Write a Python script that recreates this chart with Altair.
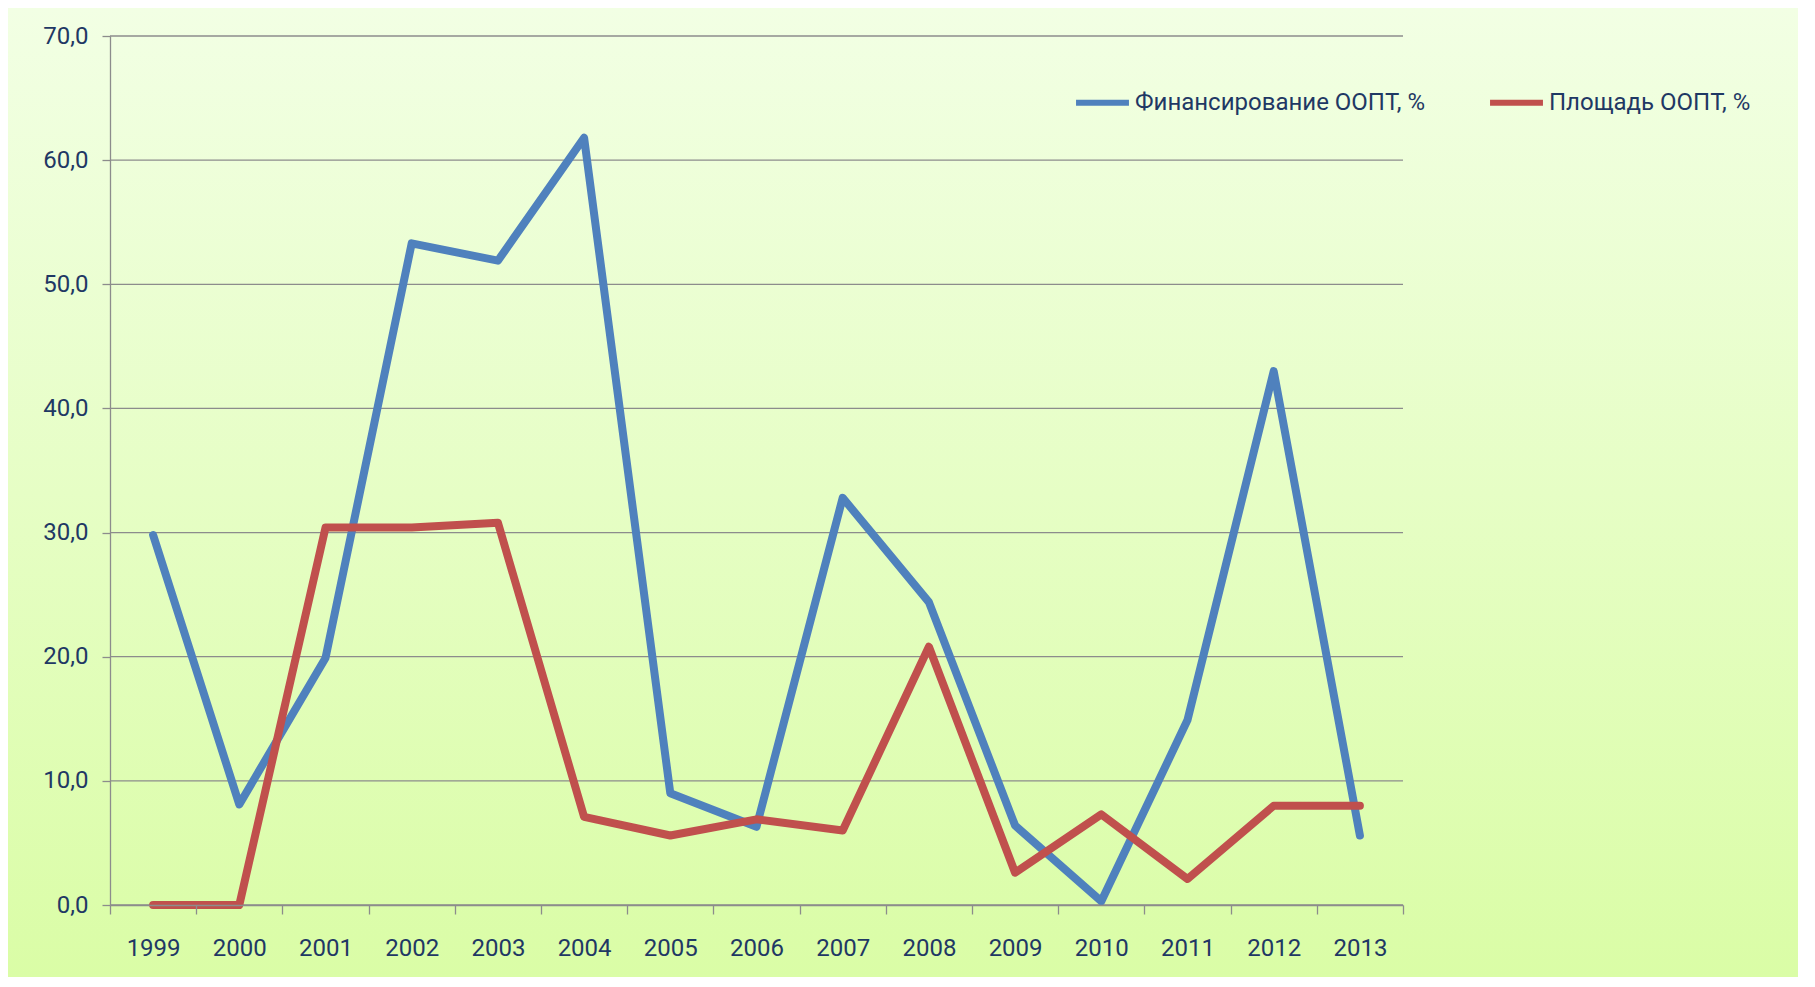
import altair as alt
import pandas as pd

years = [str(y) for y in range(1999, 2014)]
financing = [29.8, 8.1, 19.9, 53.3, 51.9, 61.8, 9.0, 6.3, 32.8, 24.4, 6.4, 0.3, 14.9, 43.0, 5.6]
area = [0.0, 0.0, 30.4, 30.4, 30.8, 7.1, 5.6, 6.9, 6.0, 20.8, 2.6, 7.3, 2.1, 8.0, 8.0]
series_names = ["Финансирование ООПТ, %", "Площадь ООПТ, %"]
series_colors = ["#4F81BD", "#C0504D"]
y_ticks = [0, 10, 20, 30, 40, 50, 60, 70]

rows = []
for i, y in enumerate(years):
    rows.append({"year": y, "series": series_names[0], "value": financing[i]})
    rows.append({"year": y, "series": series_names[1], "value": area[i]})
df = pd.DataFrame(rows)

W, H = 1293, 869
PL, PT, PR, PB = 102, 28, 395, 72
FONT = "Roboto"
TXT = "#1F3864"
GRID = "#8C8C8C"

yscale = alt.Scale(domain=[0, 70], nice=False)
yaxis = alt.Axis(title=None, values=y_ticks,
                 labelExpr="replace(format(datum.value, '.1f'), '.', ',')",
                 grid=False,
                 domainColor=GRID, tickColor=GRID, tickSize=8,
                 labelPadding=14, labelFontSize=24, labelFont=FONT,
                 labelColor=TXT, domainWidth=1.3, tickWidth=1.3, zindex=1)

bg = alt.Chart(pd.DataFrame({"a": [0]})).mark_rect(
    color=alt.LinearGradient(
        gradient="linear",
        stops=[alt.GradientStop(color="#F2FFE4", offset=0),
               alt.GradientStop(color="#DAFDA6", offset=1)],
        x1=0, x2=0, y1=0, y2=1,
    )
).encode(
    x=alt.value(-PL), x2=alt.value(W + PR),
    y=alt.value(-PT), y2=alt.value(H + PB),
)

grid = alt.Chart(pd.DataFrame({"value": y_ticks})).mark_rule(color=GRID, strokeWidth=1.3).encode(
    y=alt.Y("value:Q", scale=yscale, axis=yaxis),
    x=alt.value(0), x2=alt.value(W),
)

lines = alt.Chart(df).mark_line(strokeWidth=8, strokeJoin="round", strokeCap="round").encode(
    x=alt.X("year:O", bandPosition=0.5,
            scale=alt.Scale(type="band", paddingInner=0, paddingOuter=0),
            axis=alt.Axis(title=None, labelAngle=0, tickBand="extent", grid=False,
                          domainColor=GRID, tickColor=GRID, tickSize=9,
                          labelPadding=22, labelFontSize=24, labelFont=FONT,
                          labelColor=TXT, domainWidth=1.3, tickWidth=1.3, zindex=1)),
    y=alt.Y("value:Q", scale=yscale, axis=yaxis),
    color=alt.Color("series:N",
                    scale=alt.Scale(domain=series_names, range=series_colors),
                    legend=alt.Legend(title=None, orient="none", direction="horizontal",
                                      legendX=963, legendY=37,
                                      symbolType="stroke", symbolSize=2800,
                                      symbolStrokeWidth=6, labelFontSize=24,
                                      labelFont=FONT, labelColor=TXT, labelLimit=600,
                                      labelOffset=3, columnPadding=52, zindex=1)),
    detail="series:N",
)

chart = alt.layer(bg, grid, lines).properties(
    width=W, height=H,
    padding={"left": PL, "top": PT, "right": PR, "bottom": PB},
    autosize=alt.AutoSizeParams(type="none"),
).configure_view(stroke=None).configure(background="#F2FFE4")

chart.save("out.html", embed_options={"renderer": "svg", "actions": False})
